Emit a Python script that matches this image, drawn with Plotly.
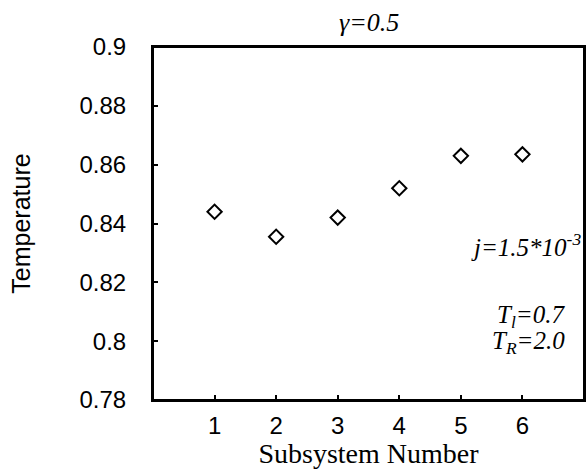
import plotly.graph_objects as go

subsystem = [1, 2, 3, 4, 5, 6]
temperature = [0.844, 0.8355, 0.842, 0.852, 0.863, 0.8635]
y_ticks = [0.78, 0.8, 0.82, 0.84, 0.86, 0.88, 0.9]
y_tick_text = ["0.78", "0.8", "0.82", "0.84", "0.86", "0.88", "0.9"]

serif = "Liberation Serif"
sans = "Liberation Sans"

fig = go.Figure()
fig.add_trace(go.Scatter(
    x=subsystem, y=temperature, mode="markers",
    marker=dict(symbol="diamond-open", size=11, color="black", line=dict(width=2, color="black")),
    showlegend=False,
))

axis_common = dict(
    showline=True, linecolor="black", linewidth=2, mirror=True,
    ticks="inside", ticklen=5, tickwidth=1.5, tickcolor="black",
    showgrid=False, zeroline=False, automargin=False,
    tickfont=dict(family=sans, size=24, color="black"),
)

fig.update_xaxes(
    range=[0, 7], tickvals=subsystem, ticklabelstandoff=3,
    title=dict(text="Subsystem Number", font=dict(family=serif, size=28, color="black"), standoff=0),
    **axis_common,
)
fig.update_yaxes(
    range=[0.78, 0.9], tickvals=y_ticks, ticktext=y_tick_text, ticklabelstandoff=20,
    title=dict(text="Temperature", font=dict(family=sans, size=25, color="black"), standoff=42),
    **axis_common,
)

# top and right frame edges with their inward ticks
fig.update_layout(
    xaxis2=dict(overlaying="x", side="top", range=[0, 7], tickvals=subsystem,
                showticklabels=False, showline=True, linecolor="black", linewidth=2,
                ticks="inside", ticklen=5, tickwidth=1.5, tickcolor="black",
                showgrid=False, zeroline=False),
    yaxis2=dict(overlaying="y", side="right", range=[0.78, 0.9], tickvals=y_ticks,
                showticklabels=False, showline=True, linecolor="black", linewidth=2,
                ticks="inside", ticklen=5, tickwidth=1.5, tickcolor="black",
                showgrid=False, zeroline=False),
)
fig.add_shape(type="rect", xref="paper", yref="paper", x0=0, y0=0, x1=1, y1=1,
              line=dict(color="black", width=2), layer="above")

fig.add_annotation(text="<i>γ=0.5</i>", xref="paper", yref="paper", x=0.5, y=1.0,
                   yshift=8, xanchor="center", yanchor="bottom", showarrow=False,
                   font=dict(family=serif, size=26, color="black"))
fig.add_annotation(text="<i>j=1.5*10<sup>-3</sup></i>", xref="paper", yref="paper",
                   x=0.997, y=0.44, xanchor="right", yanchor="middle", showarrow=False,
                   font=dict(family=serif, size=25, color="black"))
fig.add_annotation(text="<i>T<sub>l</sub>=0.7</i>", xref="paper", yref="paper",
                   x=0.96, y=0.237, xanchor="right", yanchor="middle", showarrow=False,
                   font=dict(family=serif, size=25, color="black"))
fig.add_annotation(text="<i>T<sub>R</sub>=2.0</i>", xref="paper", yref="paper",
                   x=0.96, y=0.163, xanchor="right", yanchor="middle", showarrow=False,
                   font=dict(family=serif, size=25, color="black"))

fig.update_layout(
    width=586, height=469,
    margin=dict(l=153, r=2, t=47, b=69),
    plot_bgcolor="white", paper_bgcolor="white",
)

# drop the default 8px body margin so the figure fills the window without scrollbars
fig.write_html("out.html", config={"displayModeBar": False},
               post_script="document.body.style.margin='0';document.body.style.overflow='hidden';")
